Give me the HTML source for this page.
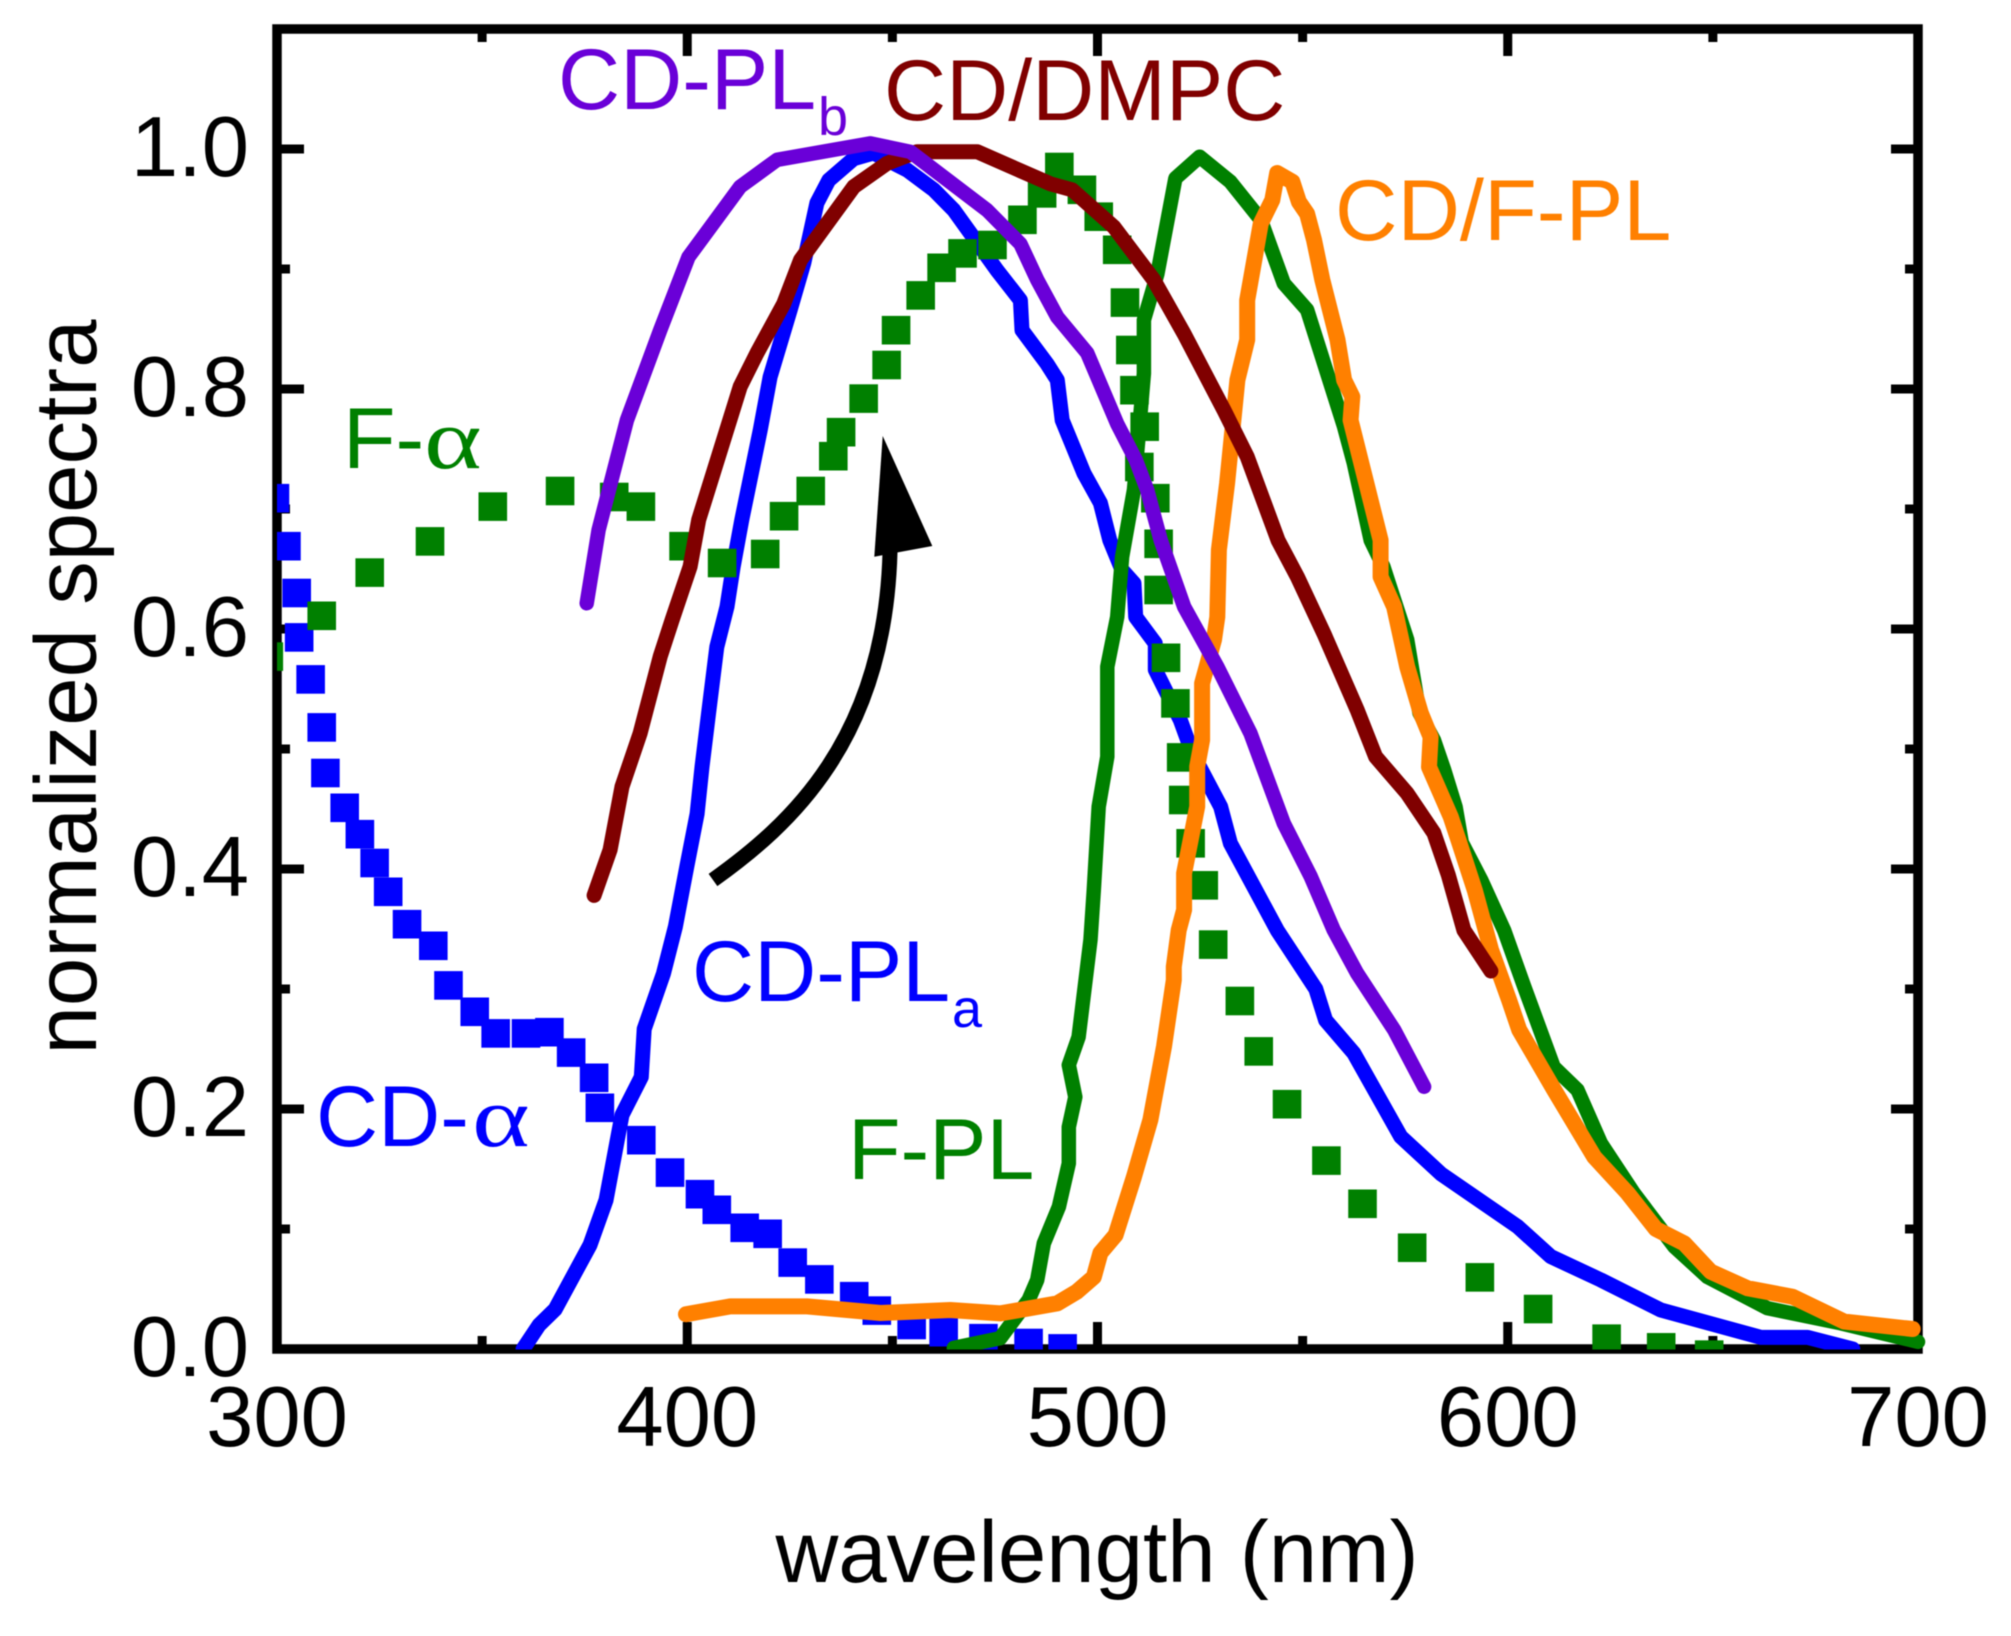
<!DOCTYPE html>
<html lang="en">
<head>
<meta charset="utf-8">
<title>Normalized spectra versus wavelength</title>
<style>
html,body{margin:0;padding:0;background:#fff;}
svg{display:block;font-family:"Liberation Sans",Arial,sans-serif;filter:blur(0.6px);}
</style>
</head>
<body>
<svg id="chart" xmlns="http://www.w3.org/2000/svg" width="2011" height="1636" viewBox="0 0 2011 1636">
  <defs>
    <clipPath id="plot-clip"><rect x="277" y="29" width="1650" height="1320.5"/></clipPath>
  </defs>
  <rect x="0" y="0" width="2011" height="1636" fill="#ffffff"/>
  <g id="axes"></g>
  <g id="marks"></g>

  <g>
    <path d="M713 880 C790 825 885 740 890 552" fill="none" stroke="#000" stroke-width="15"/>
    <polygon points="882.7,436 874.3,556.7 932.3,546" fill="#000"/>
  </g>

  <text x="1097" y="1582" font-size="87" text-anchor="middle" fill="#000">wavelength (nm)</text>
  <text transform="translate(96,687) rotate(-90)" font-size="87" text-anchor="middle" fill="#000">normalized spectra</text>

  <text x="558" y="109" font-size="86" fill="#6a00d8">CD-PL<tspan font-size="54" dx="2" dy="26">b</tspan></text>
  <text x="884" y="120" font-size="86" fill="#800000">CD/DMPC</text>
  <text x="1335" y="240" font-size="86.5" fill="#ff8000">CD/F-PL</text>
  <text x="343" y="468" font-size="86" fill="#008000">F-</text>
  <text transform="translate(424,468) scale(1.28,1)" font-size="86" font-family="'Liberation Serif',serif" fill="#008000">α</text>
  <text x="692" y="1001" font-size="86" fill="#0000ff">CD-PL<tspan font-size="54" dx="2" dy="26">a</tspan></text>
  <text x="316" y="1146" font-size="86" fill="#0000ff">CD-</text>
  <text transform="translate(472,1146) scale(1.28,1)" font-size="86" font-family="'Liberation Serif',serif" fill="#0000ff">α</text>
  <text x="848" y="1179" font-size="86" fill="#008000">F-PL</text>
</svg>

<script>
// Axis tick labels
const xTickLabels = [300, 400, 500, 600, 700];
const xMinorTicks = [350, 450, 550, 650];
const yTickLabels = ["0.0", "0.2", "0.4", "0.6", "0.8", "1.0"];
const yMinorTicks = [0.1, 0.3, 0.5, 0.7, 0.9];

// CD absorption (blue squares)
const cdAlphaWavelength = [299.5,302.3,304.8,305.4,308.2,310.9,311.8,316.5,320.2,323.8,327.1,331.7,338.1,341.8,348.2,353.3,360.7,366.4,371.7,377.3,378.7,388.8,395.8,403.1,407.2,414,419.6,425.7,432.2,440.7,446.2,454.7,462.5,472.2,483.2,491.5];
const cdAlphaValue = [0.709,0.669,0.63,0.593,0.558,0.518,0.48,0.451,0.429,0.405,0.381,0.354,0.336,0.303,0.281,0.263,0.263,0.264,0.247,0.226,0.201,0.174,0.147,0.129,0.116,0.101,0.096,0.072,0.058,0.044,0.032,0.02,0.014,0.009,0.005,0.0005];

// Fluorophore absorption (green squares)
const fAlphaWavelength = [298,310.9,322.6,337.3,352.6,369,382.2,388.7,399.1,408.5,419,423.6,430.1,435.6,437.5,443,448.6,450.9,456.9,462,467.1,474.4,481.7,486.5,490.7,496.2,500.3,504.8,506.7,508,509,511.5,510.2,514.1,514.9,514.9,516.7,519,520.4,520.9,522.7,525.9,528.2,534.7,539.3,546.2,555.8,564.6,576.7,593.2,607.4,624.1,637.4,649.1];
const fAlphaValue = [0.577,0.611,0.647,0.673,0.702,0.715,0.71,0.702,0.669,0.655,0.6625,0.694,0.715,0.744,0.764,0.792,0.82,0.849,0.878,0.901,0.913,0.92,0.941,0.963,0.985,0.966,0.9436,0.916,0.872,0.8325,0.799,0.7686,0.735,0.709,0.671,0.6325,0.576,0.538,0.493,0.4575,0.4214,0.3864,0.337,0.29,0.248,0.204,0.157,0.121,0.0844,0.0597,0.0333,0.0086,0.0014,-0.0047];

// CD-PLa (blue line)
const cdPlaWavelength = [360,363.9,367.8,376.3,380.2,384.1,388.8,389.5,394.2,397.1,399.9,402.4,403.6,405.2,407.2,409.7,411.2,413.3,417.8,420.2,425.1,428.4,431.6,434.5,440.6,445.4,453.6,460.1,465,475.5,481.2,481.6,487.7,490.2,491.4,496.7,500.7,503,506,508.9,509.3,514.1,514.1,520.2,523.1,530,532.4,543.8,553.2,555.6,562.5,573.9,583.7,602.4,610.5,622.7,637.3,661.7,673.1,684.1];
const cdPlaValue = [0,0.02,0.033,0.0867,0.124,0.195,0.2267,0.2667,0.313,0.352,0.402,0.446,0.485,0.53,0.585,0.6186,0.652,0.691,0.766,0.81,0.866,0.905,0.955,0.974,0.992,0.9967,0.9825,0.966,0.949,0.899,0.874,0.849,0.821,0.8075,0.774,0.7297,0.705,0.674,0.649,0.638,0.61,0.588,0.566,0.524,0.4967,0.452,0.4214,0.349,0.3,0.274,0.2464,0.177,0.146,0.102,0.077,0.0575,0.0325,0.0097,0.0097,0];

// F-PL (green line)
const fPlWavelength = [465,476.3,483.2,485.3,486.9,490.6,493,493,494.6,493,495.4,498.3,499.1,500.3,502.4,502.4,504.8,506,508.9,511.3,511.3,514.6,519,524.9,532.4,539.8,545.4,551.1,560.1,562.5,566.6,569.7,575.5,578.5,582,584.5,587.3,588.8,593.5,599.1,604,611.2,617,622.7,630.7,640.6,648.7,663.3,681.2,700];
const fPlValue = [0.001,0.009,0.0408,0.0575,0.088,0.1186,0.1547,0.185,0.21,0.2367,0.26,0.341,0.3825,0.452,0.4936,0.5686,0.61,0.66,0.716,0.813,0.8575,0.896,0.9756,0.9936,0.9727,0.941,0.888,0.866,0.7686,0.738,0.674,0.652,0.591,0.53,0.5075,0.4825,0.4517,0.422,0.391,0.349,0.302,0.235,0.2158,0.1714,0.13,0.0853,0.06,0.034,0.0214,0.006];

// CD/F-PL (orange line)
const cdFPlWavelength = [399.7,410.5,429.2,447.1,464.1,476.3,490.2,495,499.1,500.7,504.4,508.9,512.9,516.2,518.6,518.6,519.8,521.1,521.1,524.3,524.3,525.5,525.5,528.4,529.2,529.6,531.6,534.1,536.5,536.5,539.8,542.6,543.8,547.5,549.1,551.1,552.8,554.8,558.5,560.1,562.1,561.7,564.1,569,569,572.3,575.5,578.8,581.2,580.8,586.1,588,592,595.9,600.3,602.8,611.3,621.1,629.2,636.1,643,649.5,658.5,669.4,682,698.7];
const cdFPlValue = [0.029,0.0355,0.0355,0.03,0.0325,0.0297,0.038,0.0478,0.06,0.08,0.095,0.1436,0.191,0.252,0.3075,0.3186,0.349,0.366,0.3964,0.452,0.4853,0.5075,0.5547,0.591,0.61,0.666,0.7214,0.8075,0.841,0.874,0.938,0.9575,0.98,0.9727,0.956,0.946,0.924,0.891,0.841,0.8075,0.7936,0.774,0.741,0.674,0.6436,0.6186,0.5686,0.53,0.51,0.485,0.4436,0.424,0.382,0.333,0.291,0.266,0.216,0.16,0.13,0.1,0.088,0.0644,0.0506,0.0436,0.0228,0.0167];

// CD/DMPC (dark red line)
const cdDmpcWavelength = [377.3,381.2,384.1,388.5,393.4,396.3,400.7,402.8,412.9,417,423.5,427.6,440.6,448.7,456,470.7,488.5,493.8,504,513.7,521.1,530.8,536.5,544,548.7,555.2,563.3,567.8,575.5,582,585.5,589.3,595.9];
const cdDmpcValue = [0.378,0.416,0.4686,0.513,0.577,0.6075,0.652,0.691,0.802,0.83,0.871,0.9075,0.9686,0.988,0.9977,0.9977,0.971,0.966,0.935,0.891,0.846,0.7825,0.7436,0.674,0.6436,0.596,0.5325,0.4936,0.463,0.43,0.395,0.349,0.315];

// CD-PLb (purple line)
const cdPlbWavelength = [375.5,378.4,385.3,393.4,400.3,412.9,421.9,444.6,454.4,473.1,481.2,485.3,490.2,497.5,504.8,509.3,512.1,515.4,521.1,529.2,537.3,545.4,552,557.6,563.3,572.3,579.6];
const cdPlbValue = [0.6214,0.6825,0.774,0.849,0.91,0.9686,0.991,1.0047,0.9977,0.949,0.921,0.891,0.86,0.83,0.771,0.741,0.716,0.674,0.6186,0.5686,0.513,0.438,0.3936,0.349,0.313,0.266,0.2186];

const NS = "http://www.w3.org/2000/svg";
const plot = { left: 277, right: 1918, top: 29, bottom: 1349 };
const xMin = 300, xMax = 700, yMin = 0, yMax = 1.1;

function xScale(v) { return plot.left + (v - xMin) / (xMax - xMin) * (plot.right - plot.left); }
function yScale(v) { return plot.bottom - (v - yMin) / (yMax - yMin) * (plot.bottom - plot.top); }

function make(tag, attrs, parent) {
  const el = document.createElementNS(NS, tag);
  for (const k in attrs) el.setAttribute(k, attrs[k]);
  parent.appendChild(el);
  return el;
}

const axes = document.getElementById("axes");
const marks = document.getElementById("marks");
const TICK = { stroke: "#000", "stroke-width": 9 };

function tickLine(x1, y1, x2, y2) {
  const el = make("line", Object.assign({ x1: x1, y1: y1, x2: x2, y2: y2 }, TICK), axes);
  
  
}

const frame = make("rect", { x: plot.left, y: plot.top, width: plot.right - plot.left, height: plot.bottom - plot.top, fill: "none", stroke: "#000", "stroke-width": 9.5 }, axes);



xTickLabels.forEach(function (v) {
  const px = xScale(v);
  tickLine(px, plot.bottom, px, plot.bottom - 27);
  tickLine(px, plot.top, px, plot.top + 27);
  const t = make("text", { x: px, y: 1446, "font-size": 85, "text-anchor": "middle", fill: "#000" }, axes);
  
  
  t.textContent = String(v);
});
xMinorTicks.forEach(function (v) {
  const px = xScale(v);
  tickLine(px, plot.bottom, px, plot.bottom - 13);
  tickLine(px, plot.top, px, plot.top + 13);
});
yTickLabels.forEach(function (s) {
  const py = yScale(parseFloat(s));
  tickLine(plot.left, py, plot.left + 27, py);
  tickLine(plot.right, py, plot.right - 27, py);
  const t = make("text", { x: 249, y: py + 27, "font-size": 85, "text-anchor": "end", fill: "#000" }, axes);
  
  
  t.textContent = s;
});
yMinorTicks.forEach(function (v) {
  const py = yScale(v);
  tickLine(plot.left, py, plot.left + 13, py);
  tickLine(plot.right, py, plot.right - 13, py);
});

function drawSquares(xs, ys, color, group) {
  const g = make("g", { "clip-path": "url(#plot-clip)", fill: color }, marks);
  
  
  const size = 28.6;
  xs.forEach(function (x, i) {
    const r = make("rect", { x: xScale(x) - size / 2, y: yScale(ys[i]) - size / 2, width: size, height: size }, g);
    
    
  });
}

function drawLine(xs, ys, color, width, name) {
  const pts = xs.map(function (x, i) { return xScale(x).toFixed(1) + "," + yScale(ys[i]).toFixed(1); }).join(" ");
  const p = make("polyline", { points: pts, fill: "none", stroke: color, "stroke-width": width, "stroke-linecap": "round", "stroke-linejoin": "round", "clip-path": "url(#plot-clip)" }, marks);
  
  
}

drawSquares(cdAlphaWavelength, cdAlphaValue, "#0000ff", "cd-alpha-series");
drawLine(cdPlaWavelength, cdPlaValue, "#0000ff", 15, "cd-pla-line");
drawSquares(fAlphaWavelength, fAlphaValue, "#008000", "f-alpha-series");
drawLine(fPlWavelength, fPlValue, "#008000", 14.5, "f-pl-line");
drawLine(cdFPlWavelength, cdFPlValue, "#ff8000", 16, "cd-f-pl-line");
drawLine(cdDmpcWavelength, cdDmpcValue, "#800000", 15, "cd-dmpc-line");
drawLine(cdPlbWavelength, cdPlbValue, "#6a00d8", 14.5, "cd-plb-line");
</script>
</body>
</html>
